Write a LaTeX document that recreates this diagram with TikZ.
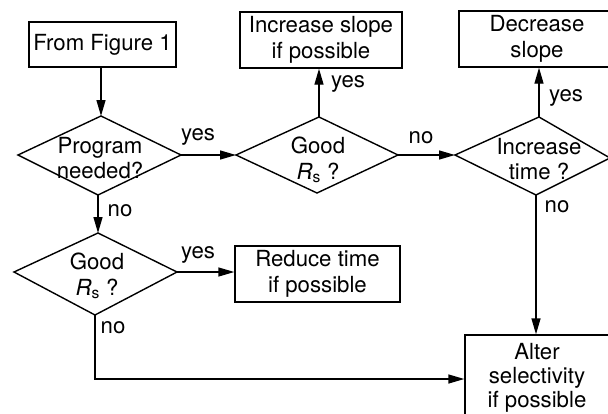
\documentclass[tikz,border=0pt]{standalone}
\usepackage{fontspec}
\setmainfont{TeX Gyre Heros}
\usetikzlibrary{arrows.meta}
\begin{document}
\begin{tikzpicture}[x=1pt,y=-1pt,
  txt/.style={font=\fontsize{22.2}{25.5}\selectfont, align=center, inner sep=0pt},
  box/.style={txt, draw, line width=1.4pt},
  ln/.style={line width=1.4pt},
  arr/.style={ln, -{Triangle[length=16pt,width=9pt]}},
  lab/.style={font=\fontsize{22.2}{25.5}\selectfont, inner sep=0pt}]
\clip (0,0) rectangle (608,413);
\fill[white] (0,0) rectangle (608,413);
% boxes
\node[box, minimum width=147, minimum height=45] (from) at (102.5,44.5) {From Figure 1};
\node[box, minimum width=162, minimum height=56] (inc) at (321,40) {Increase slope\\if possible};
\node[box, minimum width=156, minimum height=56] (dec) at (537,39) {Decrease\\slope};
\node[box, minimum width=165, minimum height=56] (red) at (317.5,274) {Reduce time\\if possible};
\node[box, minimum width=150, minimum height=88] (alt) at (540,379) {};
\node[txt, font=\fontsize{22.2}{24}\selectfont] (altt) at (537,378) {Alter\\selectivity\\if possible};
% diamond 1
\coordinate (d1n) at (101,116); \coordinate (d1e) at (181,155);
\coordinate (d1s) at (98,195);  \coordinate (d1w) at (18,155);
\draw[ln] (d1n) -- (d1e) -- (d1s) -- (d1w) -- cycle;
\node[txt] (t1) at (100,158) {Program\\needed?};
% diamond 2
\coordinate (d2n) at (319,117); \coordinate (d2e) at (398,155);
\coordinate (d2s) at (317,193); \coordinate (d2w) at (236,155);
\draw[ln] (d2n) -- (d2e) -- (d2s) -- (d2w) -- cycle;
\node[txt] (t2) at (318,160) {Good\\{\itshape R}\textsubscript{s} ?};
% diamond 3
\coordinate (d3n) at (539,117); \coordinate (d3e) at (610,158);
\coordinate (d3s) at (536,195); \coordinate (d3w) at (455,155);
\draw[ln] (d3n) -- (d3e) -- (d3s) -- (d3w) -- cycle;
\node[txt] (t3) at (539,159) {Increase\\time ?};
% diamond 4
\coordinate (d4n) at (98,233); \coordinate (d4e) at (177,272);
\coordinate (d4s) at (95,315); \coordinate (d4w) at (14,272);
\draw[ln] (d4n) -- (d4e) -- (d4s) -- (d4w) -- cycle;
\node[txt] (t4) at (97,276) {Good\\{\itshape R}\textsubscript{s} ?};
% connectors
\draw[arr] (from.south -| d1n) -- (d1n);
\draw[arr] (d1e) -- (d2w);
\draw[arr] (d2n) -- (d2n |- inc.south);
\draw[arr] (d2e) -- (d3w);
\draw[arr] (d3n) -- (d3n |- dec.south);
\draw[arr] (d1s) -- (d4n);
\draw[arr] (d4e) -- (d4e -| red.west);
\draw[arr] (d3s) -- (d3s |- alt.north);
\draw[arr] (d4s) |- (alt.west);
% labels
\node[lab] (l1) at (198,137) {yes};
\node[lab] (l2) at (348,84) {yes};
\node[lab] (l3) at (421,138) {no};
\node[lab] (l4) at (566,98) {yes};
\node[lab] (l5) at (557,207) {no};
\node[lab] (l6) at (120,211) {no};
\node[lab] (l7) at (198,255) {yes};
\node[lab] (l8) at (113,328) {no};
\end{tikzpicture}
\end{document}
